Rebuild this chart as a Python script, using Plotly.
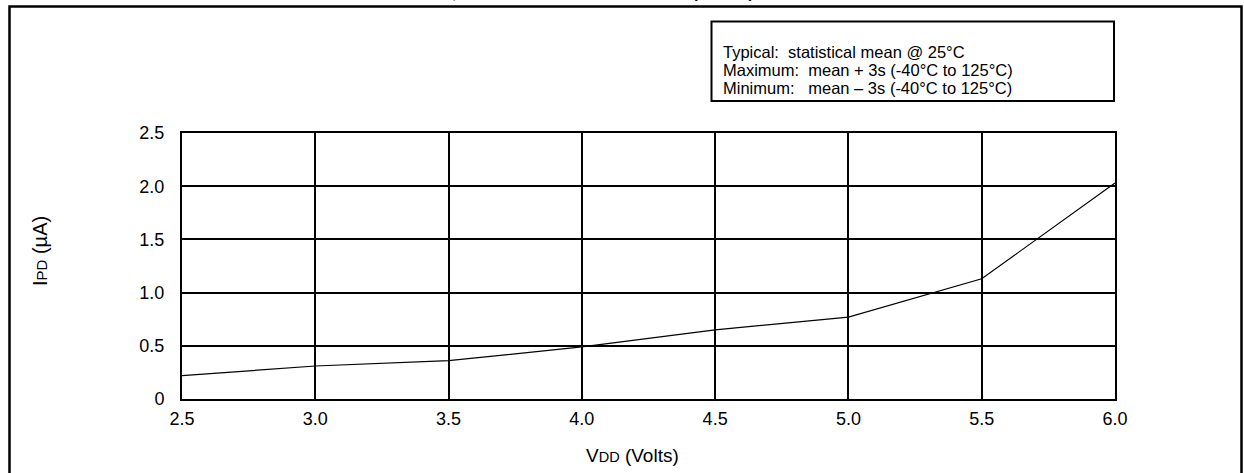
import plotly.graph_objects as go

# data
vdd = [2.5, 3.0, 3.5, 4.0, 4.5, 5.0, 5.5, 6.0]
ipd = [0.22, 0.31, 0.36, 0.49, 0.65, 0.77, 1.13, 2.03]
x_ticks = [2.5, 3.0, 3.5, 4.0, 4.5, 5.0, 5.5, 6.0]
x_labels = ["2.5", "3.0", "3.5", "4.0", "4.5", "5.0", "5.5", "6.0"]
y_ticks = [0, 0.5, 1.0, 1.5, 2.0, 2.5]
y_labels = ["0", "0.5", "1.0", "1.5", "2.0", "2.5"]
note_lines = [
    "Typical:  statistical mean @ 25°C",
    "Maximum:  mean + 3s (-40°C to 125°C)",
    "Minimum:   mean – 3s (-40°C to 125°C)",
]

W, H = 1244, 473
# plot area in screen pixels: x 182..1115, y 133..399
L, R = 182, W - 1115
T, B = 133, H - 399
pw, ph = W - L - R, H - T - B


def px(x):  # pixel x -> paper
    return (x - L) / pw


def py(y):  # pixel y -> paper
    return (H - B - y) / ph


FONT = "Arial, Liberation Sans, sans-serif"


def small_caps(big, small, size):
    return f"{big}<span style='font-size:{size}px'>{small}</span>"


fig = go.Figure()
fig.add_trace(go.Scatter(
    x=vdd, y=ipd, mode="lines",
    line=dict(color="black", width=1.2),
    showlegend=False,
))

axis_common = dict(
    showline=True, linecolor="black", linewidth=2, mirror=True,
    showgrid=True, gridcolor="black", gridwidth=2,
    zeroline=False, ticks="", tickfont=dict(size=18, color="black"),
)
fig.update_xaxes(range=[2.5, 6.0], tickvals=x_ticks, ticktext=x_labels,
                 ticklabelstandoff=2, **axis_common)
fig.update_yaxes(range=[0, 2.5], tickvals=y_ticks, ticktext=y_labels,
                 ticklabelstandoff=12, **axis_common)

# outer frame of the figure
fig.add_shape(type="rect", xref="paper", yref="paper",
              x0=px(9.5), x1=px(1241.5), y0=py(495), y1=py(6.5),
              line=dict(color="black", width=2.5), layer="below")
# note box
fig.add_shape(type="rect", xref="paper", yref="paper",
              x0=px(711.5), x1=px(1114), y0=py(101), y1=py(21.5),
              line=dict(color="black", width=2), fillcolor="white")

ann = []
for i, line in enumerate(note_lines):
    ann.append(dict(text=line, x=px(721), y=py(52 + i * 18), xanchor="left", yanchor="middle",
                    align="left", font=dict(size=16.5, color="black")))
ann += [
    dict(text=small_caps("V", "DD", 14.5) + " (Volts)", x=px(632), y=py(455),
         xanchor="center", yanchor="middle", font=dict(size=19, color="black")),
    dict(text=small_caps("I", "PD", 15) + " (µA)", x=px(40), y=py(251), textangle=-90,
         xanchor="center", yanchor="middle", font=dict(size=20, color="black")),
    # figure title, mostly cut off by the top of the page
    dict(text="TYPICAL " + small_caps("I", "PD", 12) + " vs. " + small_caps("V", "DD", 12)
              + ", ALL PERIPHERALS DISABLED (SLEEP)",
         x=px(756), y=py(3), xanchor="right", yanchor="bottom",
         font=dict(size=15.5, color="black", weight="bold")),
]
for a in ann:
    fig.add_annotation(xref="paper", yref="paper", showarrow=False, **a)

fig.update_layout(
    width=W, height=H,
    margin=dict(l=L, r=R, t=T, b=B),
    plot_bgcolor="white", paper_bgcolor="white",
    font=dict(family=FONT, color="black"),
)
# drop the default body margin so the figure sits at the page's corner
fig.write_html("out.html", config={"displayModeBar": False},
               post_script="document.body.style.margin='0';")
